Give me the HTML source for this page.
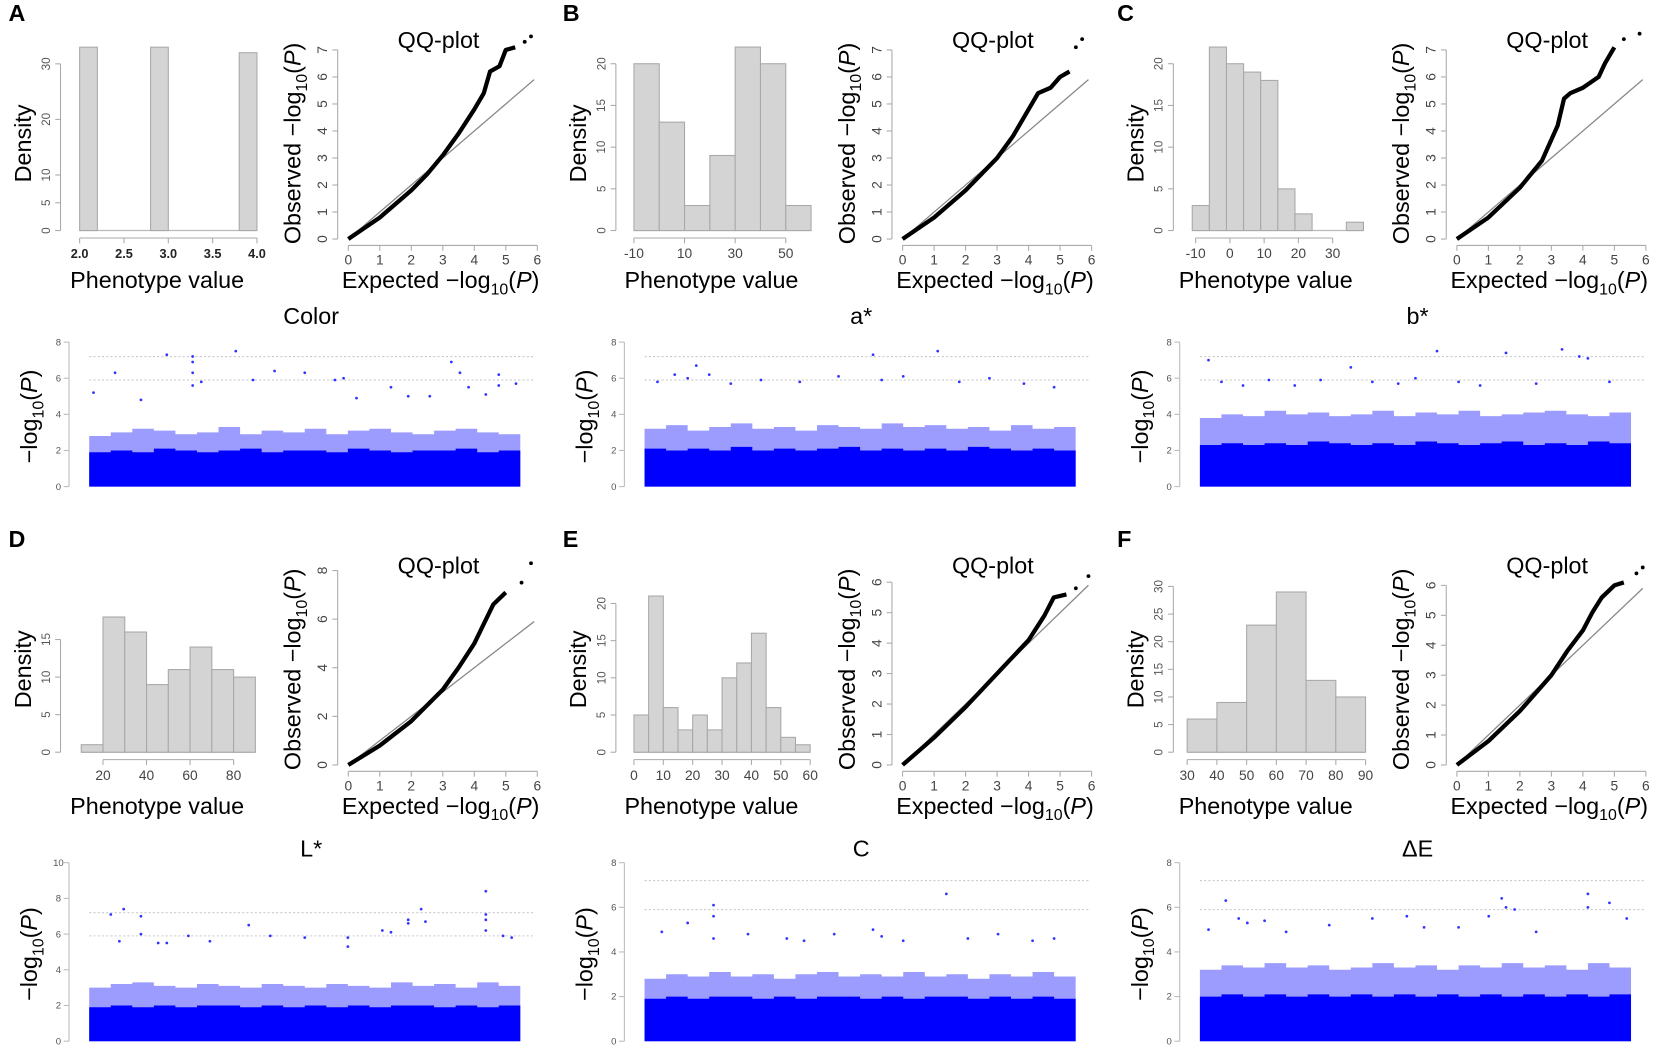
<!DOCTYPE html>
<html><head><meta charset="utf-8"><style>
html,body{margin:0;padding:0;background:#fff;overflow:hidden}
svg{display:block}
text{font-family:"Liberation Sans",sans-serif}
</style></head><body>
<svg id="fig" width="1665" height="1055" viewBox="0 0 1568 993" preserveAspectRatio="none" xmlns="http://www.w3.org/2000/svg"></svg>
<script>
// ---------- DATA ----------
const panelLetters = ["A","B","C","D","E","F"];
const traitNames = ["Color","a*","b*","L*","C","ΔE"];
const histEdgesA = [[2.0,2.2],[2.8,3.0],[3.8,4.0]];
const histValsA = [33,33,32];
const histEdgesB = [[-10,0],[0,10],[10,20],[20,30],[30,40],[40,50],[50,60]];
const histValsB = [20,13,3,9,22,20,3];
const histEdgesC = [[-11,-6],[-6,-1],[-1,4],[4,9],[9,14],[14,19],[19,24],[34,39]];
const histValsC = [3,22,20,19,18,5,2,1];
const histEdgesD = [[10,20],[20,30],[30,40],[40,50],[50,60],[60,70],[70,80],[80,90]];
const histValsD = [1,18,16,9,11,14,11,10];
const histEdgesE = [[0,5],[5,10],[10,15],[15,20],[20,25],[25,30],[30,35],[35,40],[40,45],[45,50],[50,55],[55,60]];
const histValsE = [5,21,6,3,5,3,10,12,16,6,2,1];
const histEdgesF = [[30,40],[40,50],[50,60],[60,70],[70,80],[80,90]];
const histValsF = [6,9,23,29,13,10];
const histXTicksA = [2.0,2.5,3.0,3.5,4.0];
const histXTicksB = [-10,10,30,50];
const histXTicksC = [-10,0,10,20,30];
const histXTicksD = [20,40,60,80];
const histXTicksE = [0,10,20,30,40,50,60];
const histXTicksF = [30,40,50,60,70,80,90];
const histYTicksA = [0,5,10,20,30];
const histYTicksB = [0,5,10,15,20];
const histYTicksC = [0,5,10,15,20];
const histYTicksD = [0,5,10,15];
const histYTicksE = [0,5,10,15,20];
const histYTicksF = [0,5,10,15,20,25,30];
const qqExpA = [0,1,2,2.5,3,3.5,4,4.3,4.5,4.8,5.0,5.3,5.6,5.8];
const qqObsA = [0,0.8,1.8,2.4,3.1,3.9,4.8,5.4,6.2,6.4,7.0,7.1,7.3,7.5];
const qqExpB = [0,1,2,3,3.5,4,4.3,4.7,5.0,5.3,5.5,5.7];
const qqObsB = [0,0.8,1.8,3.0,3.8,4.8,5.4,5.6,6.0,6.2,7.1,7.4];
const qqExpC = [0,1,2,2.7,3.2,3.4,3.6,4,4.5,4.7,5.0,5.3,5.8];
const qqObsC = [0,0.8,1.9,2.9,4.2,5.2,5.4,5.6,6.0,6.5,7.1,7.4,7.6];
const qqExpD = [0,1,2,3,3.5,4,4.3,4.6,5.0,5.5,5.8];
const qqObsD = [0,0.8,1.8,3.1,4.0,5.0,5.8,6.6,7.1,7.5,8.3];
const qqExpE = [0,1,2,3,4,4.5,4.8,5.2,5.5,5.9];
const qqObsE = [0,0.9,1.9,3.0,4.1,4.9,5.5,5.6,5.8,6.2];
const qqExpF = [0,1,2,3,3.5,4,4.3,4.6,5.0,5.3,5.7,5.9];
const qqObsF = [0,0.8,1.8,3.0,3.8,4.5,5.1,5.6,6.0,6.1,6.4,6.6];
const qqYMax = [7,7,7,8,6,6];
const qqYTickStep = [1,1,1,2,1,1];
const manCoreA = [1.9,2.0,1.9,2.1,2.0,1.9,2.0,2.1,1.9,2.0,2.0,1.9,2.1,2.0,1.9,2.0,2.0,2.1,1.9,2.0];
const manFringeA = [2.8,3.0,3.2,3.1,2.9,3.0,3.3,2.9,3.1,3.0,3.2,2.9,3.1,3.2,3.0,2.9,3.1,3.2,3.0,2.9];
const manPeaksA = [[0.01,5.2],[0.06,6.3],[0.12,4.8],[0.18,7.3],[0.24,7.2],[0.24,6.9],[0.24,6.3],[0.24,5.6],[0.26,5.8],[0.34,7.5],[0.38,5.9],[0.43,6.4],[0.5,6.3],[0.57,5.9],[0.59,6.0],[0.62,4.9],[0.7,5.5],[0.74,5.0],[0.79,5.0],[0.84,6.9],[0.86,6.3],[0.88,5.5],[0.92,5.1],[0.95,6.2],[0.95,5.6],[0.99,5.7]];
const manCoreB = [2.1,2.0,2.1,2.0,2.2,2.0,2.1,2.0,2.1,2.2,2.0,2.1,2.0,2.1,2.0,2.2,2.1,2.0,2.1,2.0];
const manFringeB = [3.2,3.4,3.1,3.3,3.5,3.2,3.3,3.1,3.4,3.3,3.2,3.5,3.3,3.4,3.2,3.3,3.1,3.4,3.2,3.3];
const manPeaksB = [[0.03,5.8],[0.07,6.2],[0.1,6.0],[0.12,6.7],[0.15,6.2],[0.2,5.7],[0.27,5.9],[0.36,5.8],[0.45,6.1],[0.53,7.3],[0.55,5.9],[0.6,6.1],[0.68,7.5],[0.73,5.8],[0.8,6.0],[0.88,5.7],[0.95,5.5]];
const manCoreC = [2.3,2.4,2.3,2.4,2.3,2.5,2.4,2.3,2.4,2.3,2.5,2.4,2.3,2.4,2.5,2.3,2.4,2.3,2.5,2.4];
const manFringeC = [3.8,4.0,3.9,4.2,4.0,4.1,3.9,4.0,4.2,3.9,4.1,4.0,4.2,3.9,4.0,4.1,4.2,4.0,3.9,4.1];
const manPeaksC = [[0.02,7.0],[0.05,5.8],[0.1,5.6],[0.16,5.9],[0.22,5.6],[0.28,5.9],[0.35,6.6],[0.4,5.8],[0.46,5.7],[0.5,6.0],[0.55,7.5],[0.6,5.8],[0.65,5.6],[0.71,7.4],[0.78,5.7],[0.84,7.6],[0.88,7.2],[0.9,7.1],[0.95,5.8]];
const manCoreD = [1.9,2.0,1.9,2.0,1.9,2.0,2.0,1.9,2.0,1.9,2.0,1.9,2.0,1.9,2.0,2.0,1.9,2.0,1.9,2.0];
const manFringeD = [3.0,3.2,3.3,3.1,3.0,3.2,3.1,3.0,3.2,3.1,3.0,3.2,3.1,3.0,3.3,3.1,3.2,3.0,3.3,3.1];
const manPeaksD = [[0.05,7.1],[0.07,5.6],[0.08,7.4],[0.12,7.0],[0.12,6.0],[0.16,5.5],[0.18,5.5],[0.23,5.9],[0.28,5.6],[0.37,6.5],[0.42,5.9],[0.5,5.8],[0.6,5.3],[0.6,5.8],[0.68,6.2],[0.7,6.1],[0.74,6.8],[0.74,6.6],[0.77,7.4],[0.78,6.7],[0.92,8.4],[0.92,7.1],[0.92,6.8],[0.92,6.2],[0.96,5.9],[0.98,5.8]];
const manCoreE = [1.9,2.0,1.9,2.0,2.0,1.9,2.0,1.9,2.0,2.0,1.9,2.0,1.9,2.0,2.0,1.9,2.0,1.9,2.0,1.9];
const manFringeE = [2.8,3.0,2.9,3.1,2.9,3.0,2.8,3.0,3.1,2.9,3.0,2.9,3.1,2.9,3.0,2.8,3.0,2.9,3.1,2.9];
const manPeaksE = [[0.04,4.9],[0.1,5.3],[0.16,5.6],[0.16,6.1],[0.16,4.6],[0.24,4.8],[0.33,4.6],[0.37,4.5],[0.44,4.8],[0.53,5.0],[0.55,4.7],[0.6,4.5],[0.7,6.6],[0.75,4.6],[0.82,4.8],[0.9,4.5],[0.95,4.6]];
const manCoreF = [2.0,2.1,2.0,2.1,2.0,2.1,2.0,2.1,2.0,2.1,2.0,2.1,2.0,2.1,2.0,2.1,2.0,2.1,2.0,2.1];
const manFringeF = [3.2,3.4,3.3,3.5,3.3,3.4,3.2,3.3,3.5,3.3,3.4,3.2,3.4,3.3,3.5,3.3,3.4,3.2,3.5,3.3];
const manPeaksF = [[0.02,5.0],[0.06,6.3],[0.09,5.5],[0.11,5.3],[0.15,5.4],[0.2,4.9],[0.3,5.2],[0.4,5.5],[0.48,5.6],[0.52,5.1],[0.6,5.1],[0.67,5.6],[0.7,6.4],[0.71,6.0],[0.73,5.9],[0.78,4.9],[0.9,6.6],[0.9,6.0],[0.95,6.2],[0.99,5.5]];
const manYMax = [8,8,8,10,8,8];
const manThresh = [7.2,5.9];

// ---------- DRAW ----------
const NS="http://www.w3.org/2000/svg";
const svg=document.getElementById('fig');
function el(tag,attrs,parent,txt){const e=document.createElementNS(NS,tag);for(const k in attrs)e.setAttribute(k,attrs[k]);if(txt!==undefined)e.textContent=txt;(parent||svg).appendChild(e);return e;}
function tx(x,y,s,size,opts,parent){opts=opts||{};const t=el('text',{x:x,y:y,'font-size':size,'text-anchor':opts.anchor||'middle',fill:opts.fill||'#000','font-weight':opts.bold?'bold':'normal'},parent);
 if(opts.rot)t.setAttribute('transform','rotate(-90 '+x+' '+y+')');
 if(opts.ff)t.setAttribute('font-family',opts.ff);
 t.innerHTML=s;return t;}

// [edges, vals, xticks, yticks, xpix0, xpix1, v0, v1, baseY, unused, pixels per 10 units, yAxisX]
const hists=[[histEdgesA,histValsA,histXTicksA,histYTicksA,75,242,2.0,4.0,217,0,52.3,57],
 [histEdgesB,histValsB,histXTicksB,histYTicksB,597,740,-10,50,217,0,78.5,580],
 [histEdgesC,histValsC,histXTicksC,histYTicksC,1126,1255,-10,30,217,0,78.5,1105],
 [histEdgesD,histValsD,histXTicksD,histYTicksD,97,220,20,80,708,0,70.7,57],
 [histEdgesE,histValsE,histXTicksE,histYTicksE,597,763,0,60,708,0,70,580],
 [histEdgesF,histValsF,histXTicksF,histYTicksF,1118,1286,30,90,708,0,52,1105]];
const colX=[0,522,1044], rowY=[0,495];
const qqs=[[qqExpA,qqObsA],[qqExpB,qqObsB],[qqExpC,qqObsC],[qqExpD,qqObsD],[qqExpE,qqObsE],[qqExpF,qqObsF]];
const mans=[[manCoreA,manFringeA,manPeaksA],[manCoreB,manFringeB,manPeaksB],[manCoreC,manFringeC,manPeaksC],[manCoreD,manFringeD,manPeaksD],[manCoreE,manFringeE,manPeaksE],[manCoreF,manFringeF,manPeaksF]];
const qqTopPix=[47,47,47,537,548,551];
const manX0=[84,607,1130];

for(let p=0;p<6;p++){
 const ox=colX[p%3], oy=rowY[Math.floor(p/3)];
 const g=el('g',{});
 
 
 const lt=tx(ox+8,oy+20,panelLetters[p],22,{bold:true,anchor:'start'},g);
 
 
 // histogram
 const [edges,vals,xt,yt,x0,x1,v0,v1,base,unused,per10,ya]=hists[p];
 const hx=v=>x0+(v-v0)/(v1-v0)*(x1-x0);
 const hy=v=>base-v*per10/10;
 const hg=el('g',{},g);
 
 
 el('line',{x1:hx(edges[0][0]),y1:base,x2:hx(edges[edges.length-1][1]),y2:base,stroke:'#bbb','stroke-width':1.2},hg);
 for(let i=0;i<vals.length;i++){
  const r=el('rect',{x:hx(edges[i][0]),y:hy(vals[i]),width:hx(edges[i][1])-hx(edges[i][0]),height:base-hy(vals[i]),fill:'#d4d4d4',stroke:'#a8a8a8','stroke-width':1},hg);
  
  
 }
 el('line',{x1:ya,y1:hy(yt[0]),x2:ya,y2:hy(yt[yt.length-1]),stroke:'#aaa','stroke-width':1},hg);
 yt.forEach(v=>{el('line',{x1:ya-5,y1:hy(v),x2:ya,y2:hy(v),stroke:'#aaa'},hg);tx(ya-10,hy(v),String(v),11,{rot:true,fill:'#555'},hg);});
 el('line',{x1:hx(xt[0]),y1:base+7,x2:hx(xt[xt.length-1]),y2:base+7,stroke:'#aaa'},hg);
 xt.forEach(v=>{el('line',{x1:hx(v),y1:base+7,x2:hx(v),y2:base+12,stroke:'#aaa'},hg);tx(hx(v),base+26,p==0?v.toFixed(1):String(v),p==0?12:13,{fill:p==0?'#222':'#444',bold:p==0,ff:p==0?'Liberation Serif':undefined},hg);});
 tx(ya-28,oy+135,'Density',22,{rot:true},hg);
 tx(ox+148,oy+271,'Phenotype value',22,{},hg);
 // QQ
 const qg=el('g',{},g);
 
 
 const qx0=ox+328, qx1=ox+506, qb=oy+225, qtop=qqTopPix[p], ym=qqYMax[p];
 const qxs=v=>qx0+v/6*(qx1-qx0), qys=v=>qb-v/ym*(qb-qtop);
 tx(ox+413,oy+45,'QQ-plot',22,{},qg);
 el('line',{x1:ox+318,y1:qb,x2:ox+318,y2:qys(ym),stroke:'#aaa'},qg);
 for(let v=0;v<=ym;v+=qqYTickStep[p]){el('line',{x1:ox+313,y1:qys(v),x2:ox+318,y2:qys(v),stroke:'#aaa'},qg);tx(ox+308,qys(v),String(v),13,{rot:true,fill:'#444'},qg);}
 el('line',{x1:qx0,y1:qb+6,x2:qx1,y2:qb+6,stroke:'#aaa'},qg);
 for(let v=0;v<=6;v++){el('line',{x1:qxs(v),y1:qb+6,x2:qxs(v),y2:qb+11,stroke:'#aaa'},qg);tx(qxs(v),qb+24,String(v),13,{fill:'#444'},qg);}
 tx(ox+283,oy+135,'Observed −log<tspan font-size="15" dy="6">10</tspan><tspan dy="-6">(</tspan><tspan font-style="italic">P</tspan>)',22,{rot:true},qg);
 tx(ox+415,oy+271,'Expected −log<tspan font-size="15" dy="6">10</tspan><tspan dy="-6">(</tspan><tspan font-style="italic">P</tspan>)',22,{},qg);
 const dl=el('line',{x1:qxs(0),y1:qys(0),x2:qxs(5.9),y2:qys(5.9),stroke:'#888','stroke-width':1.2},qg);
 
 
 const [ex,ob]=qqs[p];
 let d='';const n=ex.length;
 for(let i=0;i<n-2;i++)d+=(i?'L':'M')+qxs(ex[i]).toFixed(1)+','+qys(ob[i]).toFixed(1);
 const qp=el('path',{d:d,fill:'none',stroke:'#000','stroke-width':4,'stroke-linejoin':'round'},qg);
 
 
 for(let i=n-2;i<n;i++){const c=el('circle',{cx:qxs(ex[i]),cy:qys(ob[i]),r:1.8,fill:'#000'},qg);
  
  }
 // Manhattan
 const mg=el('g',{},g);
 
 
 const mx0=manX0[p%3], mx1=mx0+406, mb=(p<3?458:980), mtop=(p<3?322:812);
 const mym=manYMax[p];
 const mxs=f=>mx0+f*(mx1-mx0), mys=v=>mb-v/mym*(mb-mtop);
 const ttl=tx([293,811,1335][p%3],(p<3?305:806),traitNames[p],22,{},mg);
 
 
 const ax=mx0-19;
 el('line',{x1:ax,y1:mb,x2:ax,y2:mys(mym),stroke:'#bbb'},mg);
 for(let v=0;v<=mym;v+=2){el('line',{x1:ax-5,y1:mys(v),x2:ax,y2:mys(v),stroke:'#bbb'},mg);tx(ax-10,mys(v)+3,String(v),9,{fill:'#555'},mg);}
 tx(ax-30,mys(mym/2)+2,'−log<tspan font-size="15" dy="6">10</tspan><tspan dy="-6">(</tspan><tspan font-style="italic">P</tspan>)',22,{rot:true},mg);
 manThresh.forEach(t=>el('line',{x1:mx0,y1:mys(t),x2:mx1+14,y2:mys(t),stroke:'#ccc','stroke-dasharray':'2,2'},mg));
 const [core,fr,pk]=mans[p];
 const nb=core.length,bw=(mx1-mx0)/nb;
 let fd='M'+mx0+','+mb;
 fr.forEach((v,i)=>{fd+='L'+(mx0+i*bw)+','+mys(v).toFixed(1)+'L'+(mx0+(i+1)*bw)+','+mys(v).toFixed(1);});
 fd+='L'+mx1+','+mb+'Z';
 const fp=el('path',{d:fd,fill:'#5a5aff',opacity:0.6},mg);
 
 
 let cd='M'+mx0+','+mb;
 core.forEach((v,i)=>{cd+='L'+(mx0+i*bw)+','+mys(v).toFixed(1)+'L'+(mx0+(i+1)*bw)+','+mys(v).toFixed(1);});
 cd+='L'+mx1+','+mb+'Z';
 const cp=el('path',{d:cd,fill:'#0000ff'},mg);
 
 
 pk.forEach(q=>{const c=el('circle',{cx:mxs(q[0]),cy:mys(q[1]),r:1.3,fill:'#3333ff'},mg);
  
  });
}
</script>
</body></html>
